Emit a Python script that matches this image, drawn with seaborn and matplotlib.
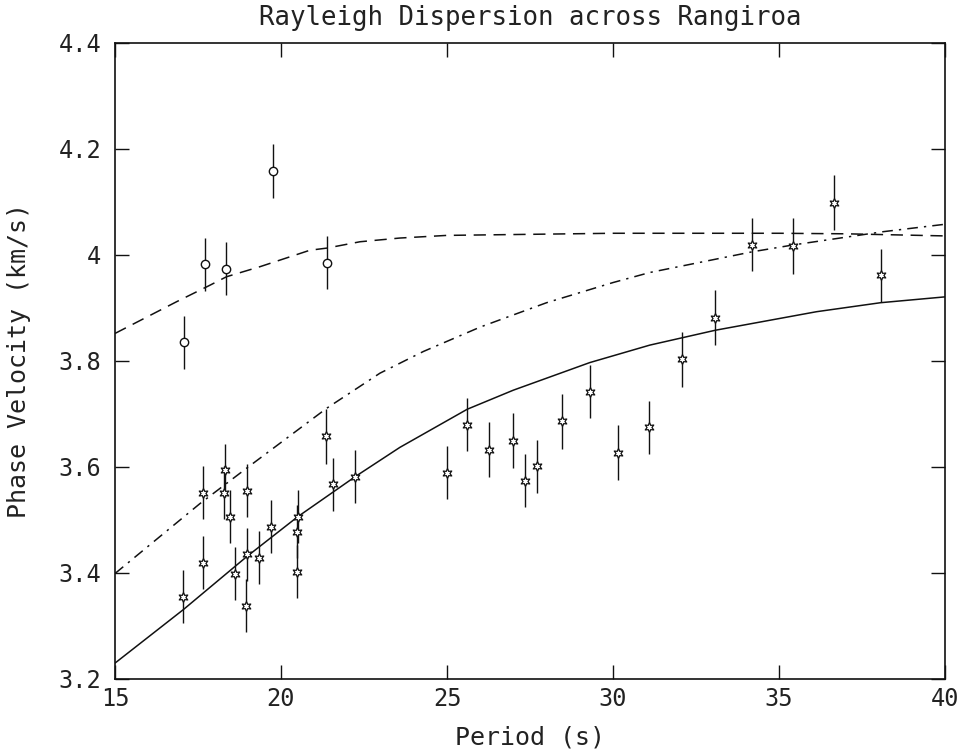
import numpy as np
import pandas as pd
import matplotlib
matplotlib.use("Agg")
import matplotlib.pyplot as plt
import seaborn as sns

# ---- data ----
star_period = [17.06, 17.66, 17.66, 18.29, 18.30, 18.46, 18.62, 18.94, 18.97, 18.98,
               19.33, 19.70, 20.49, 20.49, 20.50, 21.35, 21.56, 22.24,
               24.99, 25.61, 26.27, 26.99, 27.34, 27.71, 28.46, 29.30, 30.14, 31.07,
               32.07, 33.08, 34.19, 35.43, 36.66, 38.06]
star_vel = [3.355, 3.419, 3.551, 3.551, 3.594, 3.506, 3.399, 3.338, 3.555, 3.435,
            3.429, 3.487, 3.478, 3.402, 3.506, 3.658, 3.567, 3.582,
            3.589, 3.680, 3.633, 3.650, 3.574, 3.601, 3.686, 3.742, 3.627, 3.675,
            3.803, 3.882, 4.019, 4.017, 4.099, 3.962]
star_err = [0.05, 0.05, 0.05, 0.05, 0.05, 0.05, 0.05, 0.05, 0.05, 0.05,
            0.05, 0.05, 0.05, 0.05, 0.05, 0.052, 0.05, 0.05,
            0.05, 0.05, 0.052, 0.052, 0.05, 0.05, 0.052, 0.05, 0.052, 0.05,
            0.052, 0.052, 0.05, 0.052, 0.052, 0.05]

circ_period = [17.09, 17.71, 18.33, 19.77, 21.39]
circ_vel = [3.835, 3.983, 3.974, 4.159, 3.985]
circ_err = [0.05, 0.05, 0.05, 0.051, 0.05]

solid_x = [15, 17.06, 18.97, 20.5, 22.24, 23.58, 25.61, 27.0, 29.3, 31.11, 33.08, 36.13, 38.06, 40]
solid_y = [3.230, 3.331, 3.431, 3.506, 3.582, 3.637, 3.709, 3.745, 3.797, 3.830, 3.858, 3.893, 3.910, 3.921]

dashdot_x = [15, 17.56, 18.97, 21.38, 22.98, 24.29, 26.0, 28.0, 30.0, 31.11, 34.19, 35.43, 38.14, 40]
dashdot_y = [3.399, 3.531, 3.598, 3.711, 3.777, 3.818, 3.864, 3.910, 3.948, 3.967, 4.006, 4.019, 4.044, 4.058]

dashed_x = [15, 16.86, 17.86, 18.36, 19.37, 20.87, 21.38, 22.38, 23.58, 25, 30, 35, 37, 40]
dashed_y = [3.852, 3.912, 3.943, 3.959, 3.978, 4.009, 4.013, 4.025, 4.032, 4.037, 4.041, 4.041, 4.040, 4.036]

x_ticks = [15, 20, 25, 30, 35, 40]
y_ticks = [3.2, 3.4, 3.6, 3.8, 4.0, 4.2, 4.4]
y_tick_labels = ["3.2", "3.4", "3.6", "3.8", "4", "4.2", "4.4"]

title = "Rayleigh Dispersion across Rangiroa"
xlabel = "Period (s)"
ylabel = "Phase Velocity (km/s)"

# ---- plotting ----
sns.set_theme(style="ticks")
plt.rcParams["font.family"] = ["DejaVu Sans Mono", "DejaVu Sans"]

fig = plt.figure(figsize=(9.67, 7.49), dpi=100)
ax = fig.add_axes([115 / 967, 1 - 679 / 749, 830 / 967, 636 / 749])

ink = "#111111"
txt = "#222222"
lw = 1.1

sns.lineplot(x=solid_x, y=solid_y, ax=ax, color=ink, lw=lw, sort=False)
sns.lineplot(x=dashdot_x, y=dashdot_y, ax=ax, color=ink, lw=lw, sort=False)
ax.lines[-1].set_dashes([7, 4, 1.5, 4])
sns.lineplot(x=dashed_x, y=dashed_y, ax=ax, color=ink, lw=lw, sort=False)
ax.lines[-1].set_dashes([8, 5])

ax.errorbar(star_period, star_vel, yerr=star_err, fmt="none", ecolor=ink, elinewidth=1.0, capsize=0)
ax.errorbar(circ_period, circ_vel, yerr=circ_err, fmt="none", ecolor=ink, elinewidth=1.0, capsize=0)

stars = pd.DataFrame({"p": star_period, "v": star_vel})
circs = pd.DataFrame({"p": circ_period, "v": circ_vel})
sns.scatterplot(data=stars, x="p", y="v", ax=ax, marker=(6, 1, 0), s=50,
                facecolor="white", edgecolor=ink, linewidth=0.9, zorder=5)
sns.scatterplot(data=circs, x="p", y="v", ax=ax, marker="o", s=36,
                facecolor="white", edgecolor=ink, linewidth=1.0, zorder=5)

ax.set_xlim(15, 40)
ax.set_ylim(3.2, 4.4)
ax.set_xticks(x_ticks)
ax.set_xticklabels([str(t) for t in x_ticks])
ax.set_yticks(y_ticks)
ax.set_yticklabels(y_tick_labels)
ax.tick_params(direction="in", length=10, width=1.0, colors=ink, labelsize=17,
               labelcolor=txt, top=True, right=True)
ax.tick_params(axis="x", pad=6)
ax.tick_params(axis="y", pad=10)
for s in ax.spines.values():
    s.set_linewidth(1.2)
    s.set_color(ink)

ax.set_xlabel(xlabel, fontsize=18, color=txt, labelpad=10)
ax.set_ylabel(ylabel, fontsize=18, color=txt, labelpad=20)
ax.set_title(title, fontsize=18.5, color=txt, pad=13)

fig.savefig("out.png", dpi=100)
